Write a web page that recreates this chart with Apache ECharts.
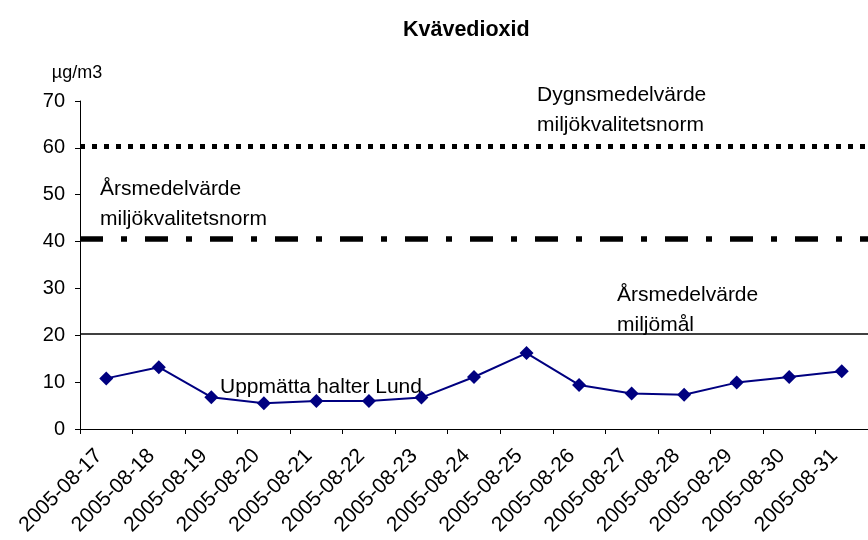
<!DOCTYPE html>
<html>
<head>
<meta charset="utf-8">
<script src="https://cdn.jsdelivr.net/npm/echarts@6/dist/echarts.min.js"></script>
<style>
html,body{margin:0;padding:0;background:#fff;}
#chart{width:868px;height:540px;}
</style>
</head>
<body>
<div id="chart"></div>
<script>
const categories = ['2005-08-17','2005-08-18','2005-08-19','2005-08-20','2005-08-21','2005-08-22','2005-08-23','2005-08-24','2005-08-25','2005-08-26','2005-08-27','2005-08-28','2005-08-29','2005-08-30','2005-08-31'];
const measured = [10.8, 13.2, 6.8, 5.5, 6.0, 6.0, 6.7, 11.1, 16.2, 9.4, 7.6, 7.3, 9.9, 11.1, 12.3];
const dailyNorm = 60.3;   // Dygnsmedelvärde miljökvalitetsnorm
const annualNorm = 40.7;  // Årsmedelvärde miljökvalitetsnorm
const annualGoal = 20.4;  // Årsmedelvärde miljömål
const yTicks = [0, 10, 20, 30, 40, 50, 60, 70];

const FONT = '"Liberation Sans", Arial, sans-serif';
const chart = echarts.init(document.getElementById('chart'), null, {renderer: 'canvas'});

const annText = (x, y, text) => ({
  type: 'text', left: x, top: y,
  style: {text: text, font: '21px ' + FONT, fill: '#000', lineHeight: 30}
});

chart.setOption({
  animation: false,
  backgroundColor: '#fff',
  title: {
    text: 'Kvävedioxid', left: 398, top: 14,
    textStyle: {fontFamily: FONT, fontWeight: 'bold', fontSize: 21.5, color: '#000'}
  },
  grid: {left: 80, right: 0, top: 101, bottom: 111, containLabel: false},
  xAxis: {
    type: 'category', data: categories, boundaryGap: true,
    axisLine: {lineStyle: {color: '#000', width: 1}},
    axisTick: {show: true, length: 5, lineStyle: {color: '#000'}},
    axisLabel: {rotate: 45, interval: 0, margin: 31, verticalAlign: 'bottom', color: '#000', fontFamily: FONT, fontSize: 21}
  },
  yAxis: {
    type: 'value', min: yTicks[0], max: yTicks[yTicks.length - 1], interval: 10,
    name: 'µg/m3', nameLocation: 'end', nameGap: 19,
    nameTextStyle: {fontFamily: FONT, fontSize: 18, color: '#000', align: 'center', padding: [0, 6, 0, 0]},
    axisLine: {show: true, lineStyle: {color: '#000', width: 1}},
    axisTick: {show: true, length: 5, lineStyle: {color: '#000'}},
    splitLine: {show: false},
    axisLabel: {color: '#000', fontFamily: FONT, fontSize: 20, margin: 15}
  },
  series: [{
    name: 'Uppmätta halter Lund', type: 'line', data: measured,
    symbol: 'diamond', symbolSize: 14,
    lineStyle: {color: '#000080', width: 2},
    itemStyle: {color: '#000080'},
    markLine: {
      silent: true, symbol: 'none', label: {show: false},
      data: [
        {yAxis: dailyNorm, lineStyle: {color: '#000', width: 5, type: [5, 7], cap: 'butt'}},
        {yAxis: annualNorm, lineStyle: {color: '#000', width: 5.5, type: [23, 18, 6, 18], cap: 'butt'}},
        {yAxis: annualGoal, lineStyle: {color: '#000', width: 1.5, type: 'solid'}}
      ]
    }
  }],
  graphic: [
    annText(537, 80, 'Dygnsmedelvärde\nmiljökvalitetsnorm'),
    annText(100, 174, 'Årsmedelvärde\nmiljökvalitetsnorm'),
    annText(617, 280, 'Årsmedelvärde\nmiljömål'),
    annText(220, 372, 'Uppmätta halter Lund')
  ]
});
</script>
</body>
</html>
